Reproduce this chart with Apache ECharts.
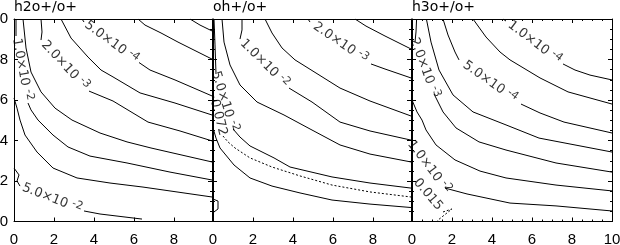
<!DOCTYPE html>
<html>
<head>
<meta charset="utf-8">
<script src="https://cdn.jsdelivr.net/npm/echarts@6/dist/echarts.min.js"></script>
<style>
  html, body { margin: 0; padding: 0; background: #fff; }
  #chart { width: 620px; height: 245px; }
</style>
</head>
<body>
<div id="chart"></div>
<script>
// panel titles and axis ranges
const titles = ['h2o+/o+', 'oh+/o+', 'h3o+/o+'];
const xMax = [9.9, 9.9, 10];

// contour lines, [x, y] points; null = gap where the label sits
const h2oLines = [
  [[8.8, 10], [9.3, 9.70], [9.9, 9.41]],
  [[6.2, 10], [6.55, 9.70], [7.35, 9.31], [8.2, 8.86], [9.9, 8.02]],
  [[3.4, 10], [3.5, 9.85], null, [6.25, 7.85], [6.8, 7.48], [8.05, 6.99], [9.9, 6.20]],
  [[2.35, 10], [2.85, 9.06], [3.7, 8.12], [4.35, 7.48], [4.95, 7.14], [6.3, 6.35], [8.05, 5.85], [9.9, 5.26]],
  [[1.35, 10], [1.4, 9.36], [1.35, 8.96], null, [3.75, 6.44], [4.95, 5.95], [6.7, 4.91], [8.3, 4.47], [9.9, 3.98]],
  [[0.45, 10], [0.6, 8.57], [0.85, 7.38], [1.35, 6.40], [2.05, 5.60], [2.9, 5.01], [4.3, 4.37], [5.65, 3.93], [6.85, 3.63], [9.9, 2.94]],
  [[0.1, 10], [0.1, 9.16], null, [0.7, 5.85], [0.85, 5.51], [1.2, 5.01], [1.95, 4.27], [2.7, 3.68], [3.8, 3.23], [5.65, 2.89], [7.8, 2.44], [9.9, 2.05]],
  [[0, 6.10], [0.15, 5.60], [0.3, 5.01], [0.55, 4.27], [1.15, 3.43], [1.95, 2.64], [3.15, 2.15], [4.8, 1.90], [6.45, 1.70], [9.9, 1.21]],
  [[0, 2.64], [0.25, 2.30], [0.15, 2.00], [0.3, 1.75], null, [3.5, 0.52], [4.3, 0.37], [6.4, 0.12]]
];
const ohLines = [
  [[7.1, 10], [7.65, 9.65], [8.6, 9.16], [9.9, 8.52]],
  [[4.75, 10], [4.85, 9.85], null, [7.9, 7.78], [8.6, 7.53], [9.9, 7.09]],
  [[2.6, 10], [2.95, 9.31], [3.45, 8.57], [4.1, 7.98], [4.75, 7.58], [6.35, 6.59], [7.85, 5.95], [9.9, 5.21]],
  [[1.45, 10], [1.45, 9.46], [1.35, 9.01], null, [3.8, 6.59], [4.95, 5.90], [6.35, 4.91], [7.85, 4.47], [9.9, 4.02]],
  [[0.45, 10], [0.55, 8.86], [0.85, 7.73], [1.35, 6.74], [2.2, 5.90], [3.55, 5.26], [4.85, 4.57], [6.35, 3.78], [7.85, 3.33], [9.9, 2.94]],
  [[0.05, 10], [0.1, 8.72], [0.15, 7.28], null, [1.0, 4.57], [1.35, 4.17], [1.85, 3.73], [3.05, 3.14], [3.85, 2.69], [5.95, 2.20], [7.85, 1.90], [9.9, 1.65]],
  [[0, 6.4], [0.05, 6.05], null, [0.5, 4.22], [0.75, 3.93], [1.1, 3.63], [1.85, 3.14], [2.95, 2.69], [4.35, 2.25], [5.95, 1.80], [7.85, 1.46], [9.9, 1.21]],
  [[0, 4.62], [0.15, 4.12], [0.35, 3.63], [1.05, 2.79], [1.85, 2.15], [2.95, 1.75], [4.35, 1.41], [5.95, 1.06], [7.85, 0.86], [9.9, 0.69]],
  [[0, 1.11], [0.25, 1.01], [0.25, 0.62], [0.05, 0.47]]
];
const h3oLines = [
  [[4.55, 10], [4.7, 9.9], null, [7.55, 7.78], [8.15, 7.48], [8.9, 7.23], [10, 6.99]],
  [[3.05, 10], [3.7, 9.11], [4.4, 8.37], [4.9, 7.98], [6.4, 7.09], [7.8, 6.40], [10, 5.80]],
  [[1.55, 10], [1.8, 9.21], [2.15, 8.37], [2.35, 7.98], null, [5.45, 5.80], [6.4, 5.36], [7.6, 4.91], [10, 4.37]],
  [[0.72, 10], [0.95, 8.86], [1.35, 7.48], [2.05, 6.25], [3.05, 5.41], [4.7, 4.77], [6.35, 4.12], [10, 3.43]],
  [[0.23, 10], [0.2, 9.36], [0.15, 8.86], null, [1.1, 6.30], [1.55, 5.41], [2.2, 4.62], [3.35, 3.93], [4.7, 3.53], [7.2, 2.89], [10, 2.44]],
  [[0, 6.0], [0.25, 5.41], [0.5, 5.01], [0.7, 4.52], [1.2, 3.78], [2.15, 3.04], [3.4, 2.49], [4.7, 2.15], [7.2, 1.80], [10, 1.51]],
  [[0.05, 3.73], null, [1.65, 1.65], [2.75, 1.36], [4.9, 0.91], [7.2, 0.77], [10, 0.52]],
  [[0, 2.35], [0.05, 2.20], null, [1.55, 0.47], [2.0, 0.62], [1.3, 0.07], [1.25, 0]]
];

// which lines are dotted
const h2oDotted = [];
const ohDotted = [6];
const h3oDotted = [7];

// contour labels: [line index, mantissa, exponent]
const h2oLabels = [[2, '5.0×10', '-4'], [4, '2.0×10', '-3'], [6, '1.0×10', '-2'], [8, '5.0×10', '-2']];
const ohLabels = [[1, '2.0×10', '-3'], [3, '1.0×10', '-2'], [5, '5.0×10', '-2'], [6, '0.072', '']];
const h3oLabels = [[0, '1.0×10', '-4'], [2, '5.0×10', '-4'], [4, '2.0×10', '-3'], [6, '1.0×10', '-2'], [7, '0.015', '']];

const panels = [
  { lines: h2oLines, dotted: h2oDotted, labels: h2oLabels },
  { lines: ohLines, dotted: ohDotted, labels: ohLabels },
  { lines: h3oLines, dotted: h3oDotted, labels: h3oLabels }
];

// outerBoundsMode none: keep the grids where they are, labels may run off the edge
const grids = [
  { left: 14, top: 19, width: 198, height: 202.5, outerBoundsMode: 'none', containLabel: false },
  { left: 213, top: 19, width: 198, height: 202.5, outerBoundsMode: 'none', containLabel: false },
  { left: 412, top: 19, width: 200, height: 202.5, outerBoundsMode: 'none', containLabel: false }
];

const black = '#000';
const tickFont = { fontFamily: 'Liberation Sans', fontSize: 15, color: black };

function axis(gi, pos, isX, labels, minor) {
  return {
    type: 'value',
    gridIndex: gi,
    position: pos,
    min: 0,
    max: isX ? xMax[gi] : 10,
    interval: 2,
    axisLine: { show: true, onZero: false, lineStyle: { color: black, width: 1 } },
    axisTick: { show: true, inside: true, length: 4, lineStyle: { color: black } },
    minorTick: { show: minor, splitNumber: 4, length: 2, lineStyle: { color: black } },
    splitLine: { show: false },
    axisLabel: labels ? Object.assign({
      show: true,
      margin: isX ? 11 : 6,
      formatter: v => (v % 2 === 0 ? String(v) : '')
    }, tickFont) : { show: false }
  };
}

const xAxes = [], yAxes = [];
for (let i = 0; i < 3; i++) {
  xAxes.push(axis(i, 'bottom', true, true, i === 2));
  xAxes.push(axis(i, 'top', true, false, i === 2));
  yAxes.push(axis(i, 'left', false, i === 0, i > 0));
  yAxes.push(axis(i, 'right', false, false, true));
}

const series = [];
panels.forEach((p, gi) => {
  p.lines.forEach((pts, li) => {
    series.push({
      type: 'line',
      xAxisIndex: gi * 2,
      yAxisIndex: gi * 2,
      data: pts.map(d => (d === null ? '-' : d)),
      showSymbol: false,
      connectNulls: false,
      silent: true,
      lineStyle: { color: black, width: 1, type: p.dotted.includes(li) ? [2, 2] : 'solid' }
    });
  });

  // labels sit in the gap of each line, turned along the gap
  const g = grids[gi];
  const sx = g.width / xMax[gi], sy = g.height / 10;
  const items = p.labels.map(([li, txt, ex]) => {
    const pts = p.lines[li];
    const k = pts.indexOf(null);
    const a = pts[k - 1], b = pts[k + 1];
    const ang = Math.atan2((a[1] - b[1]) * sy, (b[0] - a[0]) * sx) * 180 / Math.PI;
    return {
      value: [(a[0] + b[0]) / 2, (a[1] + b[1]) / 2],
      label: { rotate: -ang, formatter: ex ? '{m|' + txt + '}{e|' + ex + '}' : '{m|' + txt + '}' }
    };
  });
  series.push({
    type: 'scatter',
    xAxisIndex: gi * 2,
    yAxisIndex: gi * 2,
    symbolSize: 0,
    silent: true,
    clip: false,
    data: items,
    label: {
      show: true,
      position: 'inside',
      align: 'center',
      verticalAlign: 'middle',
      rich: {
        m: { fontFamily: 'DejaVu Sans', fontSize: 13, color: black },
        e: { fontFamily: 'DejaVu Sans', fontSize: 11, color: black, padding: [0, 0, 6, 4] }
      }
    }
  });
});

const chart = echarts.init(document.getElementById('chart'));
chart.setOption({
  animation: false,
  backgroundColor: '#fff',
  title: titles.map((t, i) => ({
    text: t,
    left: grids[i].left,
    top: 0,
    padding: 0,
    textStyle: { fontFamily: 'DejaVu Sans', fontSize: 14, fontWeight: 'normal', color: black }
  })),
  grid: grids,
  xAxis: xAxes,
  yAxis: yAxes,
  series: series
});
</script>
</body>
</html>
